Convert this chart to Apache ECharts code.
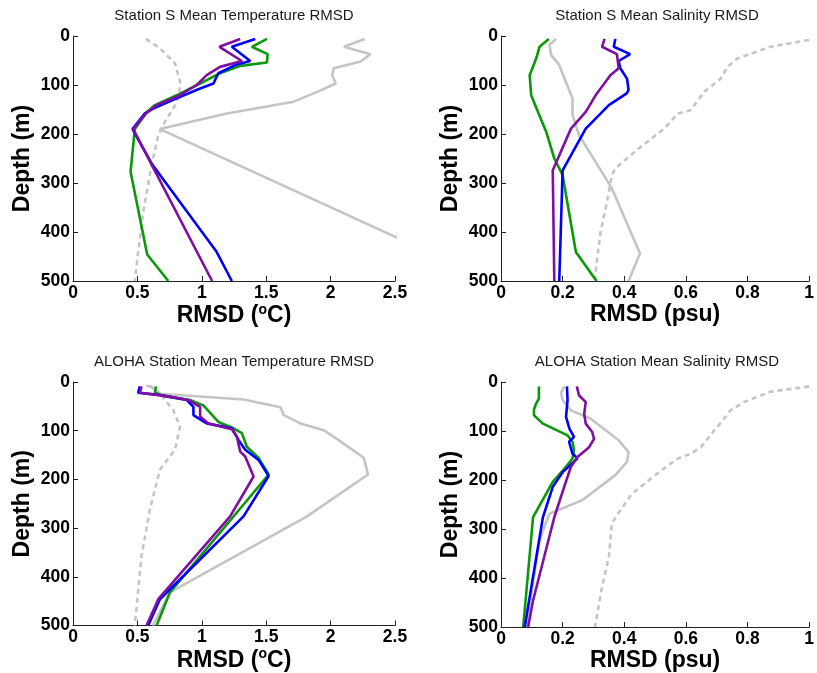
<!DOCTYPE html>
<html>
<head>
<meta charset="utf-8">
<script src="https://cdn.jsdelivr.net/npm/echarts@6/dist/echarts.min.js"></script>
<style>
  html, body { margin: 0; padding: 0; background: #fff; }
  #chart { width: 817px; height: 673px; }
</style>
</head>
<body>
<div id="chart"></div>
<script>
// RMSD profiles: each point is [rmsd, depth (m)]

// Station S, temperature (°C)
const sTempClim   = [[0.566,6],[0.675,25],[0.792,56],[0.836,97],[0.81,134],[0.714,175],[0.662,202],[0.61,264],[0.545,359],[0.506,441],[0.48,500]];
const sTempRef    = [[2.264,6],[2.103,22],[2.31,37],[2.233,52],[2.025,66],[2.012,80],[2.04,97],[1.895,114],[1.713,134],[1.506,144],[1.194,158],[0.675,190],[3.25,500]];
const sTempGreen  = [[1.506,6],[1.389,22],[1.511,37],[1.506,54],[1.30,61],[1.14,76],[0.987,97],[0.805,121],[0.636,141],[0.571,156],[0.48,190],[0.447,277],[0.576,446],[0.74,500]];
const sTempBlue   = [[1.415,6],[1.233,22],[1.376,51],[1.272,58],[1.129,76],[1.09,97],[0.987,107],[0.805,127],[0.623,148],[0.558,158],[0.462,190],[0.61,260],[1.116,441],[1.233,500]];
const sTempPurple = [[1.298,6],[1.137,22],[1.311,51],[1.142,63],[1.038,80],[0.961,100],[0.805,124],[0.649,141],[0.566,158],[0.467,190],[1.08,500]];

// Station S, salinity (psu)
const sSaltClim   = [[1.0,8],[0.874,22],[0.767,46],[0.735,63],[0.713,87],[0.66,114],[0.628,141],[0.617,151],[0.574,158],[0.53,189],[0.446,230],[0.371,270],[0.36,284],[0.344,339],[0.323,400],[0.307,481],[0.305,500]];
const sSaltRef    = [[0.179,6],[0.157,18],[0.163,39],[0.189,59],[0.21,93],[0.232,127],[0.232,161],[0.253,202],[0.36,311],[0.451,444],[0.414,500]];
const sSaltGreen  = [[0.155,6],[0.125,22],[0.114,46],[0.093,80],[0.098,121],[0.12,155],[0.147,196],[0.173,250],[0.2,284],[0.243,441],[0.31,500]];
const sSaltBlue   = [[0.371,6],[0.366,22],[0.419,37],[0.382,51],[0.387,66],[0.409,87],[0.414,110],[0.408,117],[0.35,141],[0.275,189],[0.2,274],[0.189,500]];
const sSaltPurple = [[0.336,6],[0.328,22],[0.376,37],[0.382,66],[0.355,80],[0.307,121],[0.275,155],[0.227,189],[0.168,274],[0.173,500]];

// ALOHA Station, temperature (°C)
const aTempClim   = [[0.571,7],[0.62,12],[0.675,24],[0.779,58],[0.831,92],[0.792,139],[0.675,180],[0.597,262],[0.532,357],[0.48,500]];
const aTempRef    = [[0.597,7],[0.675,24],[1.324,36],[1.61,52],[1.636,68],[1.766,85],[1.947,99],[2.077,122],[2.259,156],[2.29,190],[1.817,276],[0.753,432],[0.62,500]];
const aTempGreen  = [[0.644,9],[0.636,22],[0.70,28],[0.909,37],[1.012,48],[1.129,82],[1.246,95],[1.311,105],[1.35,133],[1.441,156],[1.519,190],[0.753,432],[0.649,500]];
const aTempBlue   = [[0.519,9],[0.506,22],[0.675,27],[0.883,37],[0.935,51],[0.935,68],[1.038,85],[1.233,95],[1.285,119],[1.337,139],[1.441,160],[1.519,193],[1.324,276],[0.675,446],[0.584,500]];
const aTempPurple = [[0.532,9],[0.519,22],[0.675,27],[0.896,37],[0.987,51],[0.987,71],[1.051,85],[1.233,97],[1.272,112],[1.298,143],[1.337,153],[1.402,194],[1.22,276],[0.662,446],[0.571,500]];

// ALOHA Station, salinity (psu)
const aSaltClim   = [[1.0,9],[0.874,20],[0.788,41],[0.745,58],[0.724,75],[0.692,99],[0.649,133],[0.617,146],[0.574,156],[0.521,180],[0.425,228],[0.376,272],[0.36,289],[0.35,357],[0.328,418],[0.307,493],[0.305,500]];
const aSaltRef    = [[0.205,9],[0.195,22],[0.2,37],[0.227,58],[0.291,75],[0.382,119],[0.414,143],[0.409,163],[0.371,190],[0.264,241],[0.157,269],[0.125,323],[0.082,500]];
const aSaltGreen  = [[0.123,9],[0.123,34],[0.114,44],[0.107,56],[0.107,68],[0.136,85],[0.216,109],[0.232,122],[0.237,139],[0.232,156],[0.211,173],[0.168,204],[0.104,276],[0.072,500]];
const aSaltBlue   = [[0.214,9],[0.216,37],[0.211,71],[0.222,95],[0.237,112],[0.221,122],[0.232,146],[0.248,156],[0.2,184],[0.168,214],[0.136,276],[0.077,500]];
const aSaltPurple = [[0.246,9],[0.253,27],[0.275,41],[0.27,65],[0.275,85],[0.296,102],[0.302,116],[0.286,133],[0.248,153],[0.227,173],[0.205,214],[0.173,276],[0.104,446],[0.088,500]];

const panelTitles = [
  'Station S Mean Temperature RMSD',
  'Station S Mean Salinity RMSD',
  'ALOHA Station Mean Temperature RMSD',
  'ALOHA Station Mean Salinity RMSD'
];
const xNames = ['RMSD ({sup|o}C)', 'RMSD (psu)', 'RMSD ({sup|o}C)', 'RMSD (psu)'];
const xMax = [2.5, 1, 2.5, 1];
const xStep = [0.5, 0.2, 0.5, 0.2];
const depthMax = 500;
const depthStep = 100;

const panelLines = [
  [sTempClim, sTempRef, sTempGreen, sTempBlue, sTempPurple],
  [sSaltClim, sSaltRef, sSaltGreen, sSaltBlue, sSaltPurple],
  [aTempClim, aTempRef, aTempGreen, aTempBlue, aTempPurple],
  [aSaltClim, aSaltRef, aSaltGreen, aSaltBlue, aSaltPurple]
];

const FONT = '"Liberation Sans", Arial, Helvetica, sans-serif';
const lineStyles = [
  { color: '#c4c4c4', width: 2.6, type: [5, 4] },
  { color: '#c4c4c4', width: 2.6 },
  { color: '#0b990b', width: 2.6 },
  { color: '#0000ff', width: 2.6 },
  { color: '#7e0fa0', width: 2.6 }
];

const boxes = [
  { left: 73,  top: 36,  width: 322, height: 245 },
  { left: 501, top: 36,  width: 312, height: 245 },
  { left: 73,  top: 382, width: 322, height: 245 },
  { left: 501, top: 382, width: 312, height: 245 }
];

const axisLine = { show: true, lineStyle: { color: '#222', width: 1 } };
const axisTick = { show: true, inside: true, length: 5, lineStyle: { color: '#222', width: 1 } };
const tickLabel = { color: '#000', fontSize: 17.5, fontWeight: 'bold', fontFamily: FONT };

const grid = boxes.map(b => Object.assign({ containLabel: false }, b));

const xAxis = boxes.map((b, i) => ({
  type: 'value', gridIndex: i, min: 0, max: xMax[i], interval: xStep[i],
  position: 'bottom',
  axisLine: Object.assign({ onZero: false }, axisLine),
  axisTick: axisTick,
  splitLine: { show: false },
  axisLabel: Object.assign({ margin: 3 }, tickLabel),
  name: xNames[i], nameLocation: 'middle', nameGap: 22,
  nameTextStyle: {
    color: '#000', fontSize: 23, fontWeight: 'bold', fontFamily: FONT,
    rich: { sup: { color: '#000', fontSize: 14, fontWeight: 'bold', fontFamily: FONT, padding: [0, 0, 12, 0] } }
  }
}));

const yAxis = boxes.map((b, i) => ({
  type: 'value', gridIndex: i, min: 0, max: depthMax, interval: depthStep,
  inverse: true,
  axisLine: Object.assign({ onZero: false }, axisLine),
  axisTick: axisTick,
  splitLine: { show: false },
  axisLabel: Object.assign({ margin: 3 }, tickLabel),
  name: 'Depth (m)', nameLocation: 'middle', nameGap: 39,
  nameTextStyle: { color: '#000', fontSize: 23, fontWeight: 'bold', fontFamily: FONT }
}));

const series = [];
panelLines.forEach((lines, p) => {
  lines.forEach((pts, k) => {
    series.push({
      type: 'line', xAxisIndex: p, yAxisIndex: p,
      data: pts, showSymbol: false, symbol: 'none',
      lineStyle: lineStyles[k], clip: true, z: 2 + k
    });
  });
});

const graphic = boxes.map((b, i) => ({
  type: 'text', x: b.left + b.width / 2, y: b.top - 20,
  style: {
    text: panelTitles[i], fill: '#1a1a1a', textAlign: 'center', textVerticalAlign: 'middle',
    font: 'normal 15px ' + FONT
  }
}));

const chart = echarts.init(document.getElementById('chart'), null, { renderer: 'canvas' });
chart.setOption({
  animation: false,
  backgroundColor: '#fff',
  grid, xAxis, yAxis, series, graphic
});
</script>
</body>
</html>
